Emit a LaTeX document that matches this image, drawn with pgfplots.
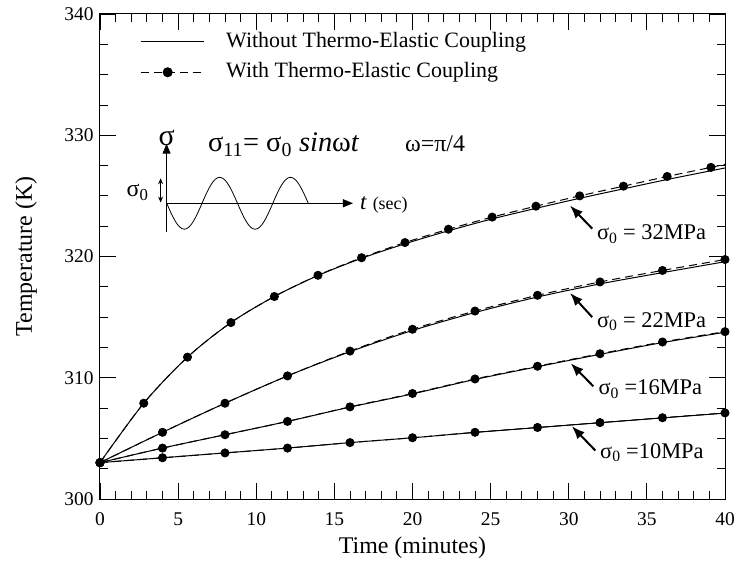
\documentclass[border=0pt]{standalone}
\usepackage{fontspec}
\setmainfont{Liberation Serif}
\usepackage{pgfplots}
\usepackage{pgfplotstable}
\pgfplotsset{compat=1.18}
\usetikzlibrary{arrows.meta}

% With thermo-elastic coupling (dashed, markers)
\pgfplotstableread{
t T
0 303.0
2.8 307.9
5.6 311.7
8.38 314.55
11.16 316.7
13.95 318.45
16.74 319.9
19.52 321.15
22.3 322.25
25.1 323.25
27.9 324.15
30.7 325.0
33.5 325.8
36.3 326.6
39.1 327.35
}\dA
\pgfplotstableread{
t T
39.1 327.35
40 327.6
}\dAend
\pgfplotstableread{
t T
0 303.0
4 305.5
8 307.9
12 310.15
16 312.2
20 314.0
24 315.5
28 316.8
32 317.9
36 318.85
40 319.75
}\dB
\pgfplotstableread{
t T
0 303.0
4 304.2
8 305.3
12 306.4
16 307.6
20 308.7
24 309.9
28 310.95
32 311.98
36 312.95
40 313.8
}\dC
\pgfplotstableread{
t T
0 303.0
4 303.4
8 303.8
12 304.2
16 304.65
20 305.05
24 305.5
28 305.9
32 306.3
36 306.7
40 307.1
}\dD
% Without coupling (solid)
\pgfplotstableread{
t T
0 303.0
2.8 307.9
5.6 311.7
8.38 314.55
11.16 316.7
13.95 318.43
16.74 319.85
19.52 321.05
22.3 322.12
25.1 323.1
27.9 323.97
30.7 324.8
33.5 325.58
36.3 326.35
39.1 327.07
40 327.3
}\sA
\pgfplotstableread{
t T
0 303.0
4 305.5
8 307.9
12 310.15
16 312.15
20 313.9
24 315.38
28 316.66
32 317.74
36 318.67
40 319.57
}\sB
\pgfplotstableread{
t T
0 303.0
4 304.2
8 305.3
12 306.4
16 307.58
20 308.67
24 309.86
28 310.91
32 311.93
36 312.9
40 313.75
}\sC
\pgfplotstableread{
t T
0 303.0
4 303.4
8 303.8
12 304.2
16 304.65
20 305.05
24 305.49
28 305.89
32 306.29
36 306.69
40 307.08
}\sD

\begin{document}
\begin{tikzpicture}
\begin{axis}[name=ax,
  scale only axis, width=625bp, height=485bp,
  xmin=0, xmax=40, ymin=300, ymax=340,
  xtick={0,5,...,40}, ytick={300,310,...,340},
  minor x tick num=4, minor y tick num=3,
  tick align=inside, major tick length=16bp, minor tick length=8bp,
  tick style={black, line width=0.8bp},
  axis line style={line width=1bp},
  /pgf/number format/assume math mode=true,
  ticklabel style={font=\fontsize{19.5}{22}\selectfont},
  xticklabel style={yshift=-10bp},
  yticklabel style={xshift=-3bp},
  xlabel={Time (minutes)}, ylabel={Temperature (K)},
  label style={font=\fontsize{24}{28}\selectfont},
  xlabel style={at={(axis description cs:0.5,-0.101)}, anchor=center},
  ylabel style={at={(axis description cs:-0.1184,0.5)}, anchor=center},
  clip=false,
  legend style={draw=none, fill=none, at={(0.064,0.965)}, anchor=north west,
    font=\fontsize{22}{26}\selectfont, inner sep=0pt,
    nodes={inner sep=0pt, text height=16bp, text depth=5bp},
    row sep=9.6bp, column sep=22bp},
  legend cell align=left,
  legend image code/.code={\draw[mark repeat=2,mark phase=2,#1] plot coordinates {(0bp,0bp) (27bp,0bp) (63bp,0bp)};},
]
\addplot[black, line width=1bp, smooth, forget plot] table {\sA};
\addplot[black, line width=1bp, smooth, forget plot] table {\sB};
\addplot[black, line width=1bp, smooth, forget plot] table {\sC};
\addplot[black, line width=1bp, smooth, forget plot] table {\sD};
\addplot[black, line width=1bp, dash pattern=on 8bp off 5bp, smooth, mark=*, mark size=4bp, mark options={solid}, forget plot] table {\dA};
\addplot[black, line width=1bp, dash pattern=on 8bp off 5bp, forget plot] table {\dAend};
\addplot[black, line width=1bp, dash pattern=on 8bp off 5bp, smooth, mark=*, mark size=4bp, mark options={solid}, forget plot] table {\dB};
\addplot[black, line width=1bp, dash pattern=on 8bp off 5bp, smooth, mark=*, mark size=4bp, mark options={solid}, forget plot] table {\dC};
\addplot[black, line width=1bp, dash pattern=on 8bp off 5bp, smooth, mark=*, mark size=4bp, mark options={solid}, forget plot] table {\dD};
\addlegendimage{black, line width=1bp}
\addlegendentry{Without Thermo-Elastic Coupling}
\addlegendimage{black, line width=1bp, dash pattern=on 8bp off 5bp, mark=*, mark size=4.5bp, mark options={solid}}
\addlegendentry{With Thermo-Elastic Coupling}

% inset sketch
\draw[line width=1bp, -{Triangle[length=10bp,width=8bp]}] (axis cs:4.26,322.05) -- (axis cs:4.26,329.3);
\node[font=\fontsize{30}{32}\selectfont] at (axis cs:4.27,329.75) {σ};
\draw[line width=1bp, -{Triangle[length=10bp,width=8bp]}] (axis cs:4.26,324.39) -- (axis cs:16.19,324.39);
\draw[line width=0.8bp] (axis cs:4.27,324.39) sin (axis cs:5.4,322.25) cos (axis cs:6.53,324.39) sin (axis cs:7.66,326.53) cos (axis cs:8.80,324.39)
  sin (axis cs:9.93,322.25) cos (axis cs:11.06,324.39) sin (axis cs:12.19,326.53) cos (axis cs:13.33,324.39);
\draw[line width=0.8bp, {Stealth[length=6bp,width=5bp]}-{Stealth[length=6bp,width=5bp]}] (axis cs:3.88,326.45) -- (axis cs:3.88,324.45);
\node[font=\fontsize{24}{28}\selectfont] at (axis cs:2.4,325.3) {σ\textsubscript{0}};
\node[anchor=west, inner sep=0pt, font=\fontsize{23}{26}\selectfont] at (axis cs:16.64,324.25) {\textit{t} {\fontsize{18}{20}\selectfont(sec)}};
\node[anchor=west, inner sep=0pt, font=\fontsize{28.5}{32}\selectfont] at (axis cs:6.91,329.2) {σ\textsubscript{11}= σ\textsubscript{0} \textit{sin}ω\textit{t}};
\node[anchor=west, inner sep=0pt, font=\fontsize{24}{28}\selectfont] at (axis cs:19.52,329.28) {ω=π/4};

% curve labels
\tikzset{lbl/.style={anchor=west, inner sep=0pt, font=\fontsize{22.5}{26}\selectfont},
  arr/.style={line width=2bp, -{Latex[length=13bp,width=10bp]}}}
\node[lbl] at (axis cs:31.8,321.85) {σ\textsubscript{0} = 32MPa};
\node[lbl] at (axis cs:31.8,314.6) {σ\textsubscript{0} = 22MPa};
\node[lbl] at (axis cs:31.9,309.07) {σ\textsubscript{0} =16MPa};
\node[lbl] at (axis cs:32.0,303.83) {σ\textsubscript{0} =10MPa};
\draw[arr] (axis cs:31.5,322.3) -- (axis cs:30.08,324.2);
\draw[arr] (axis cs:31.5,315.0) -- (axis cs:30.08,317.0);
\draw[arr] (axis cs:31.57,309.3) -- (axis cs:30.12,311.2);
\draw[arr] (axis cs:31.7,304.0) -- (axis cs:30.2,306.0);
\end{axis}
\pgfresetboundingbox
\path (ax.south west) ++(-100bp,-65bp) rectangle ([xshift=9bp,yshift=14bp]ax.north east);
\end{tikzpicture}
\end{document}
